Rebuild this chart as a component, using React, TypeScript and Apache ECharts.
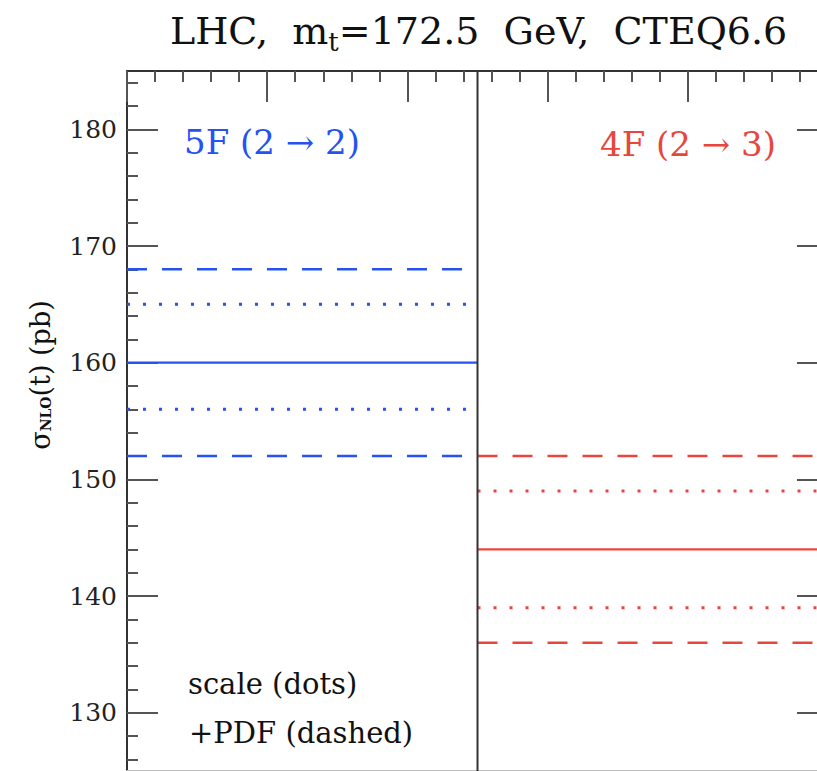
import React, { useEffect, useRef } from "react";
import * as echarts from "echarts";

// ---- data ----
const panelLabels = ["5F (2 → 2)", "4F (2 → 3)"];
const centralValues = [160, 144];
const scaleUpper = [165, 149];
const scaleLower = [156, 139];
const pdfUpper = [168, 152];
const pdfLower = [152, 136];
const yRange = [125, 185];
const xRange = [0, 5];
const yMajorTicks = [130, 140, 150, 160, 170, 180];
const yMinorTicks = [126, 128, 132, 134, 136, 138, 142, 144, 146, 148, 152, 154, 156, 158, 162, 164, 166, 168, 172, 174, 176, 178, 182, 184];
const noteLines = ["scale (dots)", "+PDF (dashed)"];

const PANEL_COLORS = ["#2652f2", "#e8463c"];
const SERIF = "DejaVu Serif";

export default function App() {
  const ref = useRef<HTMLDivElement | null>(null);

  useEffect(() => {
    if (!ref.current) return;
    const chart = echarts.init(ref.current, undefined, { renderer: "svg" });

    const nPanels = panelLabels.length;
    const panelWidth = (xRange[1] - xRange[0]) / nPanels;
    const series: any[] = [];
    for (let i = 0; i < nPanels; i++) {
      const x0 = xRange[0] + i * panelWidth;
      const x1 = x0 + panelWidth;
      const color = PANEL_COLORS[i];
      const add = (v: number, type: any, width: number, name: string) =>
        series.push({
          type: "line",
          name,
          xAxisIndex: 0,
          yAxisIndex: 0,
          data: [[x0, v], [x1, v]],
          symbol: "none",
          silent: true,
          lineStyle: { color, width, type, cap: "butt" },
          z: 3,
        });
      add(pdfUpper[i], [20, 15], 2.5, "pdfUp" + i);
      add(scaleUpper[i], [3, 13], 3, "scaleUp" + i);
      add(centralValues[i], "solid", 2.4, "central" + i);
      add(scaleLower[i], [3, 13], 3, "scaleDown" + i);
      add(pdfLower[i], [20, 15], 2.5, "pdfDown" + i);
    }
    // panel divider
    for (let i = 1; i < nPanels; i++) {
      const xb = xRange[0] + i * panelWidth;
      series.push({
        type: "line",
        xAxisIndex: 0,
        yAxisIndex: 0,
        data: [[xb, yRange[0]], [xb, yRange[1]]],
        symbol: "none",
        silent: true,
        lineStyle: { color: "#333", width: 2 },
        z: 4,
      });
    }

    const tickColor = "#555";
    const yBase = {
      type: "value",
      min: yRange[0],
      max: yRange[1],
      splitLine: { show: false },
      axisLabel: { show: false },
    };

    const option: any = {
      animation: false,
      backgroundColor: "#ffffff",
      title: {
        text: "{a|LHC,  m}{s|t}{a|=172.5  GeV,  CTEQ6.6}",
        left: 165,
        top: 2,
        textStyle: {
          fontWeight: "normal",
          rich: {
            a: { fontFamily: SERIF, fontSize: 38, fontWeight: "normal", color: "#111" },
            s: { fontFamily: SERIF, fontSize: 26, fontWeight: "normal", color: "#111", padding: [22, 0, 0, 0] },
          },
        },
      },
      grid: { left: 127, top: 71, width: 701, height: 700, containLabel: false },
      xAxis: [
        {
          type: "value",
          position: "top",
          min: xRange[0],
          max: xRange[1],
          interval: 1,
          axisLine: { show: true, lineStyle: { color: "#333", width: 2 } },
          axisTick: { show: true, inside: true, length: 31, lineStyle: { color: tickColor, width: 2 } },
          minorTick: { show: true, splitNumber: 5, length: 11, lineStyle: { color: tickColor, width: 2 } },
          axisLabel: { show: false },
          splitLine: { show: false },
        },
        {
          type: "value",
          position: "bottom",
          min: xRange[0],
          max: xRange[1],
          axisLine: { show: true, lineStyle: { color: "#bbb", width: 2 } },
          axisTick: { show: false },
          axisLabel: { show: false },
          splitLine: { show: false },
        },
      ],
      yAxis: [
        {
          ...yBase,
          position: "left",
          axisLine: { show: true, lineStyle: { color: "#333", width: 2 } },
          axisTick: { show: true, inside: true, length: 31, customValues: yMajorTicks, lineStyle: { color: tickColor, width: 2 } },
          axisLabel: { show: true, customValues: yMajorTicks, fontFamily: SERIF, fontSize: 25, color: "#222", margin: 10 },
        },
        {
          ...yBase,
          position: "left",
          axisLine: { show: false },
          axisTick: { show: true, inside: true, length: 11, customValues: yMinorTicks, lineStyle: { color: tickColor, width: 2 } },
        },
        {
          ...yBase,
          position: "right",
          axisLine: { show: true, lineStyle: { color: "#333", width: 2 } },
          axisTick: { show: true, inside: true, length: 31, customValues: yMajorTicks, lineStyle: { color: tickColor, width: 2 } },
        },
        {
          ...yBase,
          position: "right",
          axisLine: { show: false },
          axisTick: { show: true, inside: true, length: 11, customValues: yMinorTicks, lineStyle: { color: tickColor, width: 2 } },
        },
      ],
      graphic: [
        {
          type: "text",
          x: 40,
          y: 375,
          rotation: Math.PI / 2,
          style: {
            text: "{a|σ}{s|NLO}{a|(t) (pb)}",
            align: "center",
            verticalAlign: "middle",
            rich: {
              a: { fontFamily: SERIF, fontSize: 27, fill: "#111" },
              s: { fontFamily: SERIF, fontSize: 14, fontWeight: "bold", fill: "#111", padding: [12, 0, 0, 0] },
            },
          },
        },
        {
          type: "text",
          x: 272,
          y: 142,
          style: { text: panelLabels[0], font: `34px "${SERIF}"`, fill: PANEL_COLORS[0], align: "center", verticalAlign: "middle" },
        },
        {
          type: "text",
          x: 688,
          y: 144,
          style: { text: panelLabels[1], font: `34px "${SERIF}"`, fill: PANEL_COLORS[1], align: "center", verticalAlign: "middle" },
        },
        {
          type: "text",
          x: 188,
          y: 684,
          style: { text: noteLines[0], font: `29px "${SERIF}"`, fill: "#111", align: "left", verticalAlign: "middle" },
        },
        {
          type: "text",
          x: 189,
          y: 733,
          style: { text: noteLines[1], font: `29px "${SERIF}"`, fill: "#111", align: "left", verticalAlign: "middle" },
        },
      ],
      series,
    };

    chart.setOption(option);
    return () => chart.dispose();
  }, []);

  return (
    <div style={{ position: "fixed", left: 0, top: 0, width: 817, height: 771, overflow: "hidden", background: "#fff" }}>
      <div ref={ref} style={{ width: 840, height: 790 }} />
    </div>
  );
}
